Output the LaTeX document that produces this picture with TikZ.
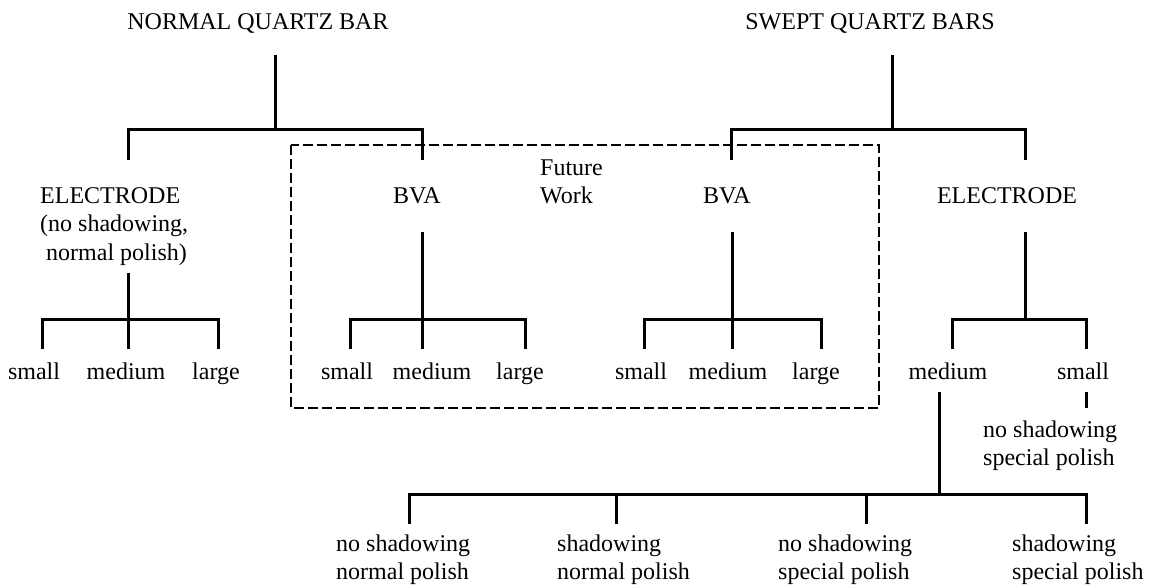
\documentclass[tikz,border=0pt]{standalone}
\usepackage{fontspec}
\setmainfont{Liberation Serif}
\newcommand\mystack[1]{\begin{tabular}[t]{@{}l@{}}#1\end{tabular}}
\begin{document}
\begin{tikzpicture}[x=1pt,y=-1pt,
  lbl/.style={inner sep=0pt, font=\fontsize{24}{28.5}\selectfont},
  tree/.style={line width=3pt, line join=miter, line cap=butt},
  fut/.style={line width=1.3pt, dash pattern=on 10pt off 4pt}]
\useasboundingbox (0,0) rectangle (1153,584);

% ---------- labels ----------
\node[lbl, anchor=base] (nqb) at (258,29) {NORMAL QUARTZ BAR};
\node[lbl, anchor=base] (sqb) at (870,29) {SWEPT QUARTZ BARS};

\node[lbl, anchor=base west] (el1) at (40,203) {\mystack{ELECTRODE\\(no shadowing,\\\ normal polish)}};
\node[lbl, anchor=base] (bva1) at (417,203) {BVA};
\node[lbl, anchor=base west] (fw) at (540,175) {\mystack{Future\\Work}};
\node[lbl, anchor=base] (bva2) at (727,203) {BVA};
\node[lbl, anchor=base] (el2) at (1007,203) {ELECTRODE};

\node[lbl, anchor=base] (s1) at (34,379) {small};
\node[lbl, anchor=base] (m1) at (126,379) {medium};
\node[lbl, anchor=base] (l1) at (216,379) {large};
\node[lbl, anchor=base] (s2) at (347,379) {small};
\node[lbl, anchor=base] (m2) at (432,379) {medium};
\node[lbl, anchor=base] (l2) at (520,379) {large};
\node[lbl, anchor=base] (s3) at (641,379) {small};
\node[lbl, anchor=base] (m3) at (728,379) {medium};
\node[lbl, anchor=base] (l3) at (816,379) {large};
\node[lbl, anchor=base] (m4) at (948,379) {medium};
\node[lbl, anchor=base] (s4) at (1083,379) {small};

\node[lbl, anchor=base west] (ns4) at (983,437) {\mystack{no shadowing\\special polish}};

\node[lbl, anchor=base west] (b1) at (336,551) {\mystack{no shadowing\\normal polish}};
\node[lbl, anchor=base west] (b2) at (557,551) {\mystack{shadowing\\normal polish}};
\node[lbl, anchor=base west] (b3) at (778,551) {\mystack{no shadowing\\special polish}};
\node[lbl, anchor=base west] (b4) at (1012,551) {\mystack{shadowing\\special polish}};

% ---------- connector points ----------
\coordinate (nqbT) at (275,55);  \coordinate (nqbJ) at (275,129);
\coordinate (el1T) at (128,160); \coordinate (bva1T) at (422,160);
\coordinate (sqbT) at (892,55);  \coordinate (sqbJ) at (892,129);
\coordinate (bva2T) at (731,160); \coordinate (el2T) at (1025,160);

\coordinate (el1B) at (128,273); \coordinate (j1) at (128,319);
\coordinate (s1T) at (42,349); \coordinate (m1T) at (128,349); \coordinate (l1T) at (218,349);
\coordinate (bva1B) at (422,232); \coordinate (j2) at (422,319);
\coordinate (s2T) at (350,349); \coordinate (m2T) at (422,349); \coordinate (l2T) at (525,349);
\coordinate (bva2B) at (732,232); \coordinate (j3) at (732,319);
\coordinate (s3T) at (644,349); \coordinate (m3T) at (732,349); \coordinate (l3T) at (821,349);
\coordinate (el2B) at (1025,232); \coordinate (j4) at (1025,319);
\coordinate (m4T) at (952,349); \coordinate (s4T) at (1086,349);

\coordinate (s4B) at (1086,392); \coordinate (ns4T) at (1086,408);
\coordinate (m4B) at (939,392); \coordinate (j5) at (939,494);
\coordinate (b1T) at (409,524); \coordinate (b2T) at (616,524);
\coordinate (b3T) at (866,524); \coordinate (b4T) at (1086,524);

\coordinate (fwNW) at (291,145); \coordinate (fwSE) at (879,408);

% ---------- connectors ----------
\draw[tree] (nqbT) -- (nqbJ);
\draw[tree] (el1T) -- (el1T |- nqbJ) -- (bva1T |- nqbJ) -- (bva1T);
\draw[tree] (sqbT) -- (sqbJ);
\draw[tree] (bva2T) -- (bva2T |- sqbJ) -- (el2T |- sqbJ) -- (el2T);

\draw[tree] (el1B) -- (m1T);
\draw[tree] (s1T) -- (s1T |- j1) -- (l1T |- j1) -- (l1T);
\draw[tree] (bva1B) -- (m2T);
\draw[tree] (s2T) -- (s2T |- j2) -- (l2T |- j2) -- (l2T);
\draw[tree] (bva2B) -- (m3T);
\draw[tree] (s3T) -- (s3T |- j3) -- (l3T |- j3) -- (l3T);
\draw[tree] (el2B) -- (j4);
\draw[tree] (m4T) -- (m4T |- j4) -- (s4T |- j4) -- (s4T);

\draw[tree] (s4B) -- (ns4T);
\draw[tree] (m4B) -- (j5);
\draw[tree] (b1T) -- (b1T |- j5) -- (b4T |- j5) -- (b4T);
\draw[tree] (b2T) -- (b2T |- j5);
\draw[tree] (b3T) -- (b3T |- j5);

\draw[fut] (fwNW) rectangle (fwSE);
\end{tikzpicture}
\end{document}
